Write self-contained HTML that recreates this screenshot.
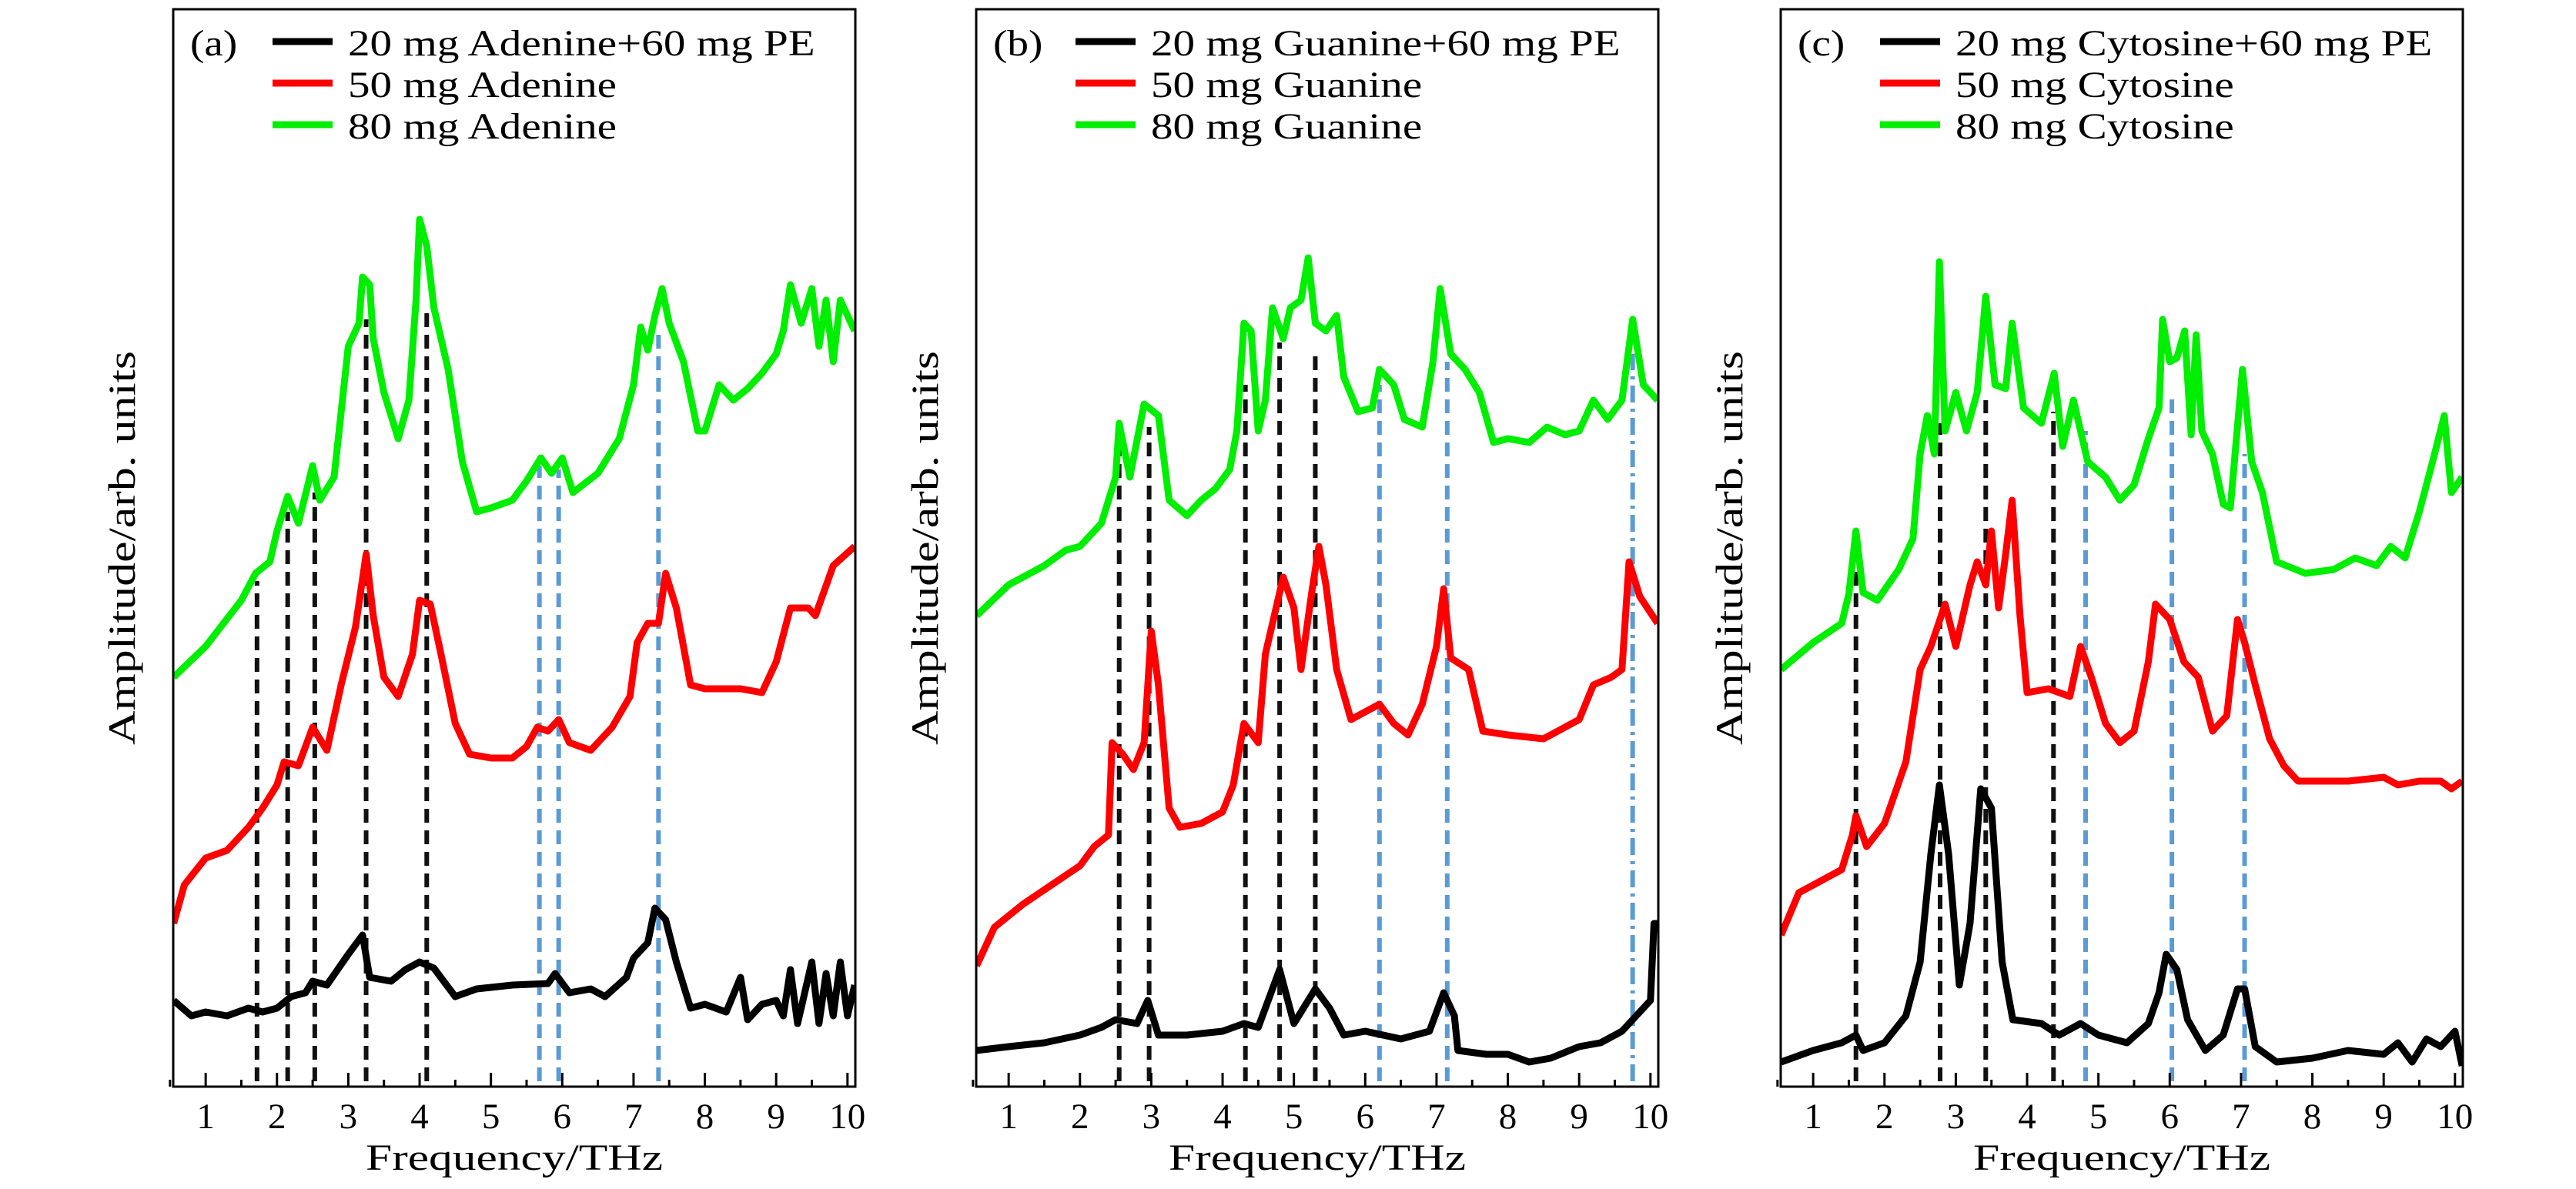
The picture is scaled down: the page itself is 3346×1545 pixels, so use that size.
<!DOCTYPE html>
<html><head><meta charset="utf-8"><style>
html,body{margin:0;padding:0;background:#fff}
svg{display:block}
text{font-family:"Liberation Serif",serif;fill:#000}
</style></head><body>
<svg id="fig" width="3346" height="1545" viewBox="0 0 3346 1545" xmlns="http://www.w3.org/2000/svg"></svg>
<script>
// ---------- data (frequency in THz, amplitude in arb. units) ----------
const aGreenF=[0.55,1.0,1.5,1.7,1.9,2.0,2.15,2.3,2.5,2.6,2.8,3.0,3.15,3.2,3.3,3.35,3.5,3.7,3.85,3.95,4.0,4.1,4.2,4.4,4.6,4.8,5.0,5.3,5.5,5.7,5.85,6.0,6.15,6.5,6.8,7.0,7.1,7.2,7.3,7.4,7.5,7.7,7.9,8.0,8.2,8.4,8.6,8.8,9.0,9.1,9.2,9.35,9.5,9.6,9.7,9.8,9.9,10.1];
const aGreenV=[532,572,632,667,682,722,767,732,807,762,792,962,992,1052,1042,972,902,842,892,1022,1127,1092,1012,932,812,747,752,762,787,817,797,817,772,797,842,912,987,957,1002,1037,992,942,852,852,912,892,907,927,952,982,1042,992,1037,962,1022,942,1022,982];
const aRedF=[0.55,0.7,1.0,1.3,1.6,1.8,2.0,2.1,2.3,2.5,2.7,2.9,3.1,3.25,3.35,3.5,3.7,3.9,4.0,4.15,4.3,4.5,4.7,5.0,5.3,5.5,5.65,5.8,5.95,6.1,6.4,6.7,6.95,7.05,7.2,7.35,7.45,7.6,7.8,8.0,8.5,8.8,9.0,9.2,9.45,9.55,9.8,10.1];
const aRedV=[212,262,297,307,337,362,392,422,417,467,437,522,597,692,612,532,507,562,632,627,562,472,432,427,427,442,467,462,477,447,437,467,507,577,602,602,667,622,522,517,517,512,552,622,622,612,677,702];
const aBlackF=[0.55,0.8,1.0,1.3,1.6,1.8,2.0,2.2,2.4,2.5,2.7,3.0,3.2,3.3,3.6,3.8,4.0,4.2,4.5,4.8,5.3,5.8,5.9,6.1,6.4,6.6,6.9,7.0,7.2,7.3,7.45,7.6,7.8,8.0,8.3,8.5,8.6,8.8,9.0,9.1,9.2,9.3,9.5,9.6,9.7,9.8,9.9,10.0,10.1];
const aBlackV=[112,92,97,92,102,97,102,117,122,137,132,172,197,142,137,152,162,154,117,127,132,134,147,122,127,117,142,167,187,232,217,162,102,107,97,142,87,107,112,92,152,82,162,82,147,92,162,92,132];
const aDashBlackF=[1.72,2.15,2.53,3.25,4.1];
const aDashBlackTop=[657,747,772,997,1007];
const aDashBlueF=[5.68,5.95,7.35];
const aDashBlueTop=[807,802,982];

const bGreenF=[0.55,1.0,1.5,1.8,2.0,2.3,2.5,2.55,2.7,2.9,3.1,3.25,3.5,3.7,3.9,4.1,4.2,4.3,4.4,4.5,4.6,4.7,4.85,4.95,5.1,5.2,5.3,5.45,5.6,5.7,5.9,6.1,6.2,6.4,6.55,6.8,6.95,7.05,7.2,7.4,7.6,7.8,8.0,8.3,8.55,8.8,9.0,9.2,9.4,9.6,9.75,9.9,10.1];
const bGreenV=[612,652,677,697,702,732,792,862,792,887,872,762,742,762,777,802,852,992,982,852,892,1012,972,1012,1022,1077,992,982,1002,922,877,882,932,912,867,857,942,1037,952,932,902,837,842,837,857,847,852,892,867,892,997,912,892];
const bRedF=[0.55,0.8,1.2,1.6,2.0,2.2,2.4,2.45,2.6,2.75,2.9,3.0,3.1,3.25,3.4,3.7,4.0,4.15,4.3,4.5,4.6,4.75,4.85,5.0,5.1,5.25,5.35,5.45,5.6,5.8,6.0,6.2,6.4,6.6,6.8,7.0,7.1,7.2,7.45,7.65,8.0,8.5,9.0,9.2,9.45,9.6,9.7,9.85,10.1];
const bRedV=[157,207,237,262,287,312,327,447,432,412,447,592,522,362,337,342,357,392,472,447,562,622,662,622,542,642,702,652,542,477,487,497,472,457,497,572,647,557,542,462,457,452,477,522,532,542,682,637,602];
const bBlackF=[0.55,1.0,1.5,2.0,2.3,2.5,2.8,2.95,3.1,3.5,4.0,4.3,4.5,4.8,5.0,5.3,5.5,5.7,6.0,6.5,6.9,7.1,7.25,7.3,7.7,8.0,8.3,8.6,9.0,9.3,9.6,9.8,10.0,10.05,10.1];
const bBlackV=[47,52,57,67,77,87,82,112,67,67,72,82,77,152,82,127,102,67,72,62,72,122,92,47,42,42,32,37,52,57,72,92,112,212,212];
const bDashBlackF=[2.55,2.97,4.32,4.8,5.3];
const bDashBlackTop=[832,857,912,967,952];
const bDashBlueF=[6.2,7.15];
const bDashBlueTop=[912,942];
const bDashDotF=[9.75];
const bDashDotTop=[952];

const cGreenF=[0.55,1.0,1.4,1.5,1.6,1.7,1.9,2.2,2.4,2.5,2.6,2.7,2.77,2.85,3.0,3.15,3.3,3.42,3.55,3.7,3.79,3.95,4.2,4.38,4.5,4.65,4.85,5.1,5.3,5.5,5.7,5.85,5.9,6.0,6.1,6.21,6.3,6.37,6.45,6.6,6.75,6.85,7.02,7.15,7.3,7.5,7.9,8.3,8.6,8.9,9.1,9.3,9.5,9.7,9.85,9.95,10.1];
const cGreenV=[542,577,602,640,722,642,632,672,712,822,872,822,1072,852,902,852,902,1027,912,907,992,882,862,927,832,892,812,792,762,782,842,882,997,942,947,982,847,977,852,822,757,752,932,812,772,682,667,672,687,677,702,687,747,817,872,772,792];
const cRedF=[0.55,0.8,1.2,1.4,1.55,1.6,1.75,2.0,2.3,2.5,2.65,2.85,3.0,3.2,3.3,3.42,3.5,3.6,3.7,3.79,3.9,4.0,4.3,4.6,4.75,4.9,5.1,5.3,5.5,5.7,5.8,6.0,6.2,6.4,6.6,6.8,6.95,7.05,7.2,7.4,7.6,7.8,8.5,9.0,9.2,9.5,9.8,9.95,10.1];
const cRedV=[197,252,272,282,327,352,312,342,422,542,572,627,572,652,682,652,722,622,692,762,612,512,517,507,572,532,472,447,462,552,627,607,552,532,462,482,607,577,522,452,417,397,397,402,392,397,397,387,397];
const cBlackF=[0.55,1.0,1.4,1.6,1.7,2.0,2.3,2.5,2.65,2.77,2.9,3.05,3.2,3.35,3.5,3.65,3.8,4.2,4.45,4.75,5.0,5.4,5.7,5.85,5.95,6.1,6.25,6.5,6.75,6.95,7.05,7.2,7.5,8.0,8.5,9.0,9.2,9.4,9.6,9.8,10.0,10.1];
const cBlackV=[32,47,57,67,47,57,92,162,302,392,302,132,212,387,362,162,87,82,67,82,67,57,82,122,172,152,87,47,67,127,127,52,32,37,47,42,57,32,62,52,72,27];
const cDashBlackF=[1.6,2.78,3.42,4.37];
const cDashBlackTop=[677,862,892,877];
const cDashBlueF=[4.82,6.03,7.05];
const cDashBlueTop=[852,897,822];

const xTicks=[1,2,3,4,5,6,7,8,9,10];
const xMin=0.545, xMax=10.11, yMin=0, yMax=1404;

// ---------- drawing ----------
const NS="http://www.w3.org/2000/svg";
const svg=document.getElementById('fig');
const PW=886, TOP=8, BOT=1412;
function mk(tag,attrs,parent){const e=document.createElementNS(NS,tag);for(const k in attrs)e.setAttribute(k,attrs[k]);(parent||svg).appendChild(e);return e;}
function widen(t,f){const w=t.getComputedTextLength();if(w>0){t.setAttribute('textLength',(w*f).toFixed(1));t.setAttribute('lengthAdjust','spacingAndGlyphs');}}

const panels=[
 {id:'a',L:225,label:'(a)',names:['20 mg Adenine+60 mg PE','50 mg Adenine','80 mg Adenine'],
  series:[[aBlackF,aBlackV,'#000'],[aRedF,aRedV,'#ff0000'],[aGreenF,aGreenV,'#00ee00']],
  dashes:[[aDashBlackF,aDashBlackTop,'#111','18 10'],[aDashBlueF,aDashBlueTop,'#5b9bd5','18 10']]},
 {id:'b',L:1268,label:'(b)',names:['20 mg Guanine+60 mg PE','50 mg Guanine','80 mg Guanine'],
  series:[[bBlackF,bBlackV,'#000'],[bRedF,bRedV,'#ff0000'],[bGreenF,bGreenV,'#00ee00']],
  dashes:[[bDashBlackF,bDashBlackTop,'#111','18 10'],[bDashBlueF,bDashBlueTop,'#5b9bd5','18 10'],[bDashDotF,bDashDotTop,'#5b9bd5','22 8 4 8']]},
 {id:'c',L:2313,label:'(c)',names:['20 mg Cytosine+60 mg PE','50 mg Cytosine','80 mg Cytosine'],
  series:[[cBlackF,cBlackV,'#000'],[cRedF,cRedV,'#ff0000'],[cGreenF,cGreenV,'#00ee00']],
  dashes:[[cDashBlackF,cDashBlackTop,'#111','18 10'],[cDashBlueF,cDashBlueTop,'#5b9bd5','18 10']]}
];

panels.forEach(p=>{
  const X=f=>p.L+(f-xMin)/(xMax-xMin)*PW;
  const Y=v=>BOT-(v-yMin)/(yMax-yMin)*(BOT-TOP);
  const g=mk('g',{});
  
  
  const cp=mk('clipPath',{id:'clip'+p.id},g);
  mk('rect',{x:p.L,y:TOP,width:PW,height:BOT-TOP},cp);
  p.dashes.forEach((d)=>{
    d[0].forEach((f,i)=>{
      const ln=mk('line',{x1:X(f),x2:X(f),y1:Y(7),y2:Y(d[1][i]),stroke:d[2],'stroke-width':6,'stroke-dasharray':d[3]},g);
      
      
    });
  });
  const snames=['black-series','red-series','green-series'];
  p.series.forEach((s,si)=>{
    const pts=s[0].map((f,i)=>X(f).toFixed(1)+','+Y(s[1][i]).toFixed(1)).join(' ');
    const pl=mk('polyline',{points:pts,fill:'none',stroke:s[2],'stroke-width':9,'stroke-linejoin':'round','clip-path':'url(#clip'+p.id+')'},g);
    
    
  });
  const fr=mk('rect',{x:p.L,y:TOP+4,width:PW,height:BOT-TOP-4,fill:'none',stroke:'#000','stroke-width':3},g);
  
  
  xTicks.forEach(t=>{
    const tk=mk('line',{x1:X(t),x2:X(t),y1:BOT,y2:BOT-18,stroke:'#000','stroke-width':3},g);
    
    
    const tm=mk('line',{x1:X(t-0.5),x2:X(t-0.5),y1:BOT,y2:BOT-9,stroke:'#000','stroke-width':3},g);
    
    
    const tl=mk('text',{x:X(t),y:1466,'font-size':47,'text-anchor':'middle'},g);
    tl.textContent=t;
    
    
  });
  const xt=mk('text',{x:p.L+PW/2,y:1520,'font-size':48,'text-anchor':'middle',textLength:386,lengthAdjust:'spacingAndGlyphs'},g);
  xt.textContent='Frequency/THz';
  
  
  const yt=mk('text',{x:0,y:0,'font-size':50,'text-anchor':'middle',textLength:512,lengthAdjust:'spacingAndGlyphs',transform:'translate('+(p.L-50)+',712) rotate(-90)'},g);
  yt.textContent='Amplitude/arb. units';
  
  
  const pl=mk('text',{x:p.L+22,y:72,'font-size':48},g);
  pl.textContent=p.label;
  
  
  widen(pl,1.15);
  const cols=['#000','#ff0000','#00ee00'];
  p.names.forEach((n,i)=>{
    const ly=54+i*54;
    const ll=mk('line',{x1:p.L+129,x2:p.L+207,y1:ly,y2:ly,stroke:cols[i],'stroke-width':9},g);
    
    
    const lt=mk('text',{x:p.L+227,y:ly+18,'font-size':48},g);
    lt.textContent=n;
    
    
    widen(lt,1.19);
  });
});
</script>
</body></html>
